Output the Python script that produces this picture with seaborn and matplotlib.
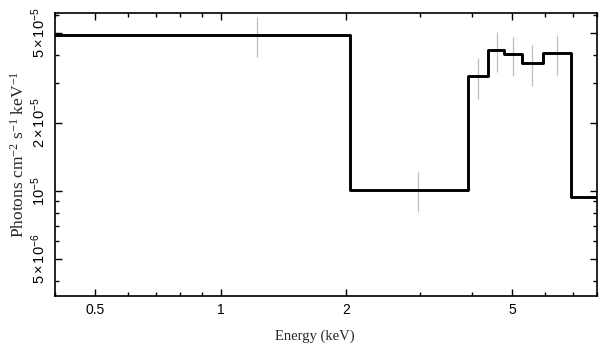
import numpy as np
import pandas as pd
import seaborn as sns
import matplotlib
matplotlib.use("Agg")
import matplotlib.pyplot as plt
from matplotlib.ticker import FixedLocator, FixedFormatter, NullFormatter

# ---- data ----
bin_edges = [0.4, 2.04, 3.91, 4.38, 4.78, 5.27, 5.92, 6.92, 8.0]
model_vals = [4.90e-5, 1.01e-5, 3.22e-5, 4.21e-5, 4.04e-5, 3.67e-5, 4.09e-5, 9.4e-6]
err_x = [1.22, 2.97, 4.14, 4.59, 5.01, 5.59, 6.42]
err_lo = [3.91e-5, 8.12e-6, 2.56e-5, 3.37e-5, 3.23e-5, 2.92e-5, 3.26e-5]
err_hi = [5.87e-5, 1.22e-5, 3.87e-5, 5.02e-5, 4.79e-5, 4.43e-5, 4.90e-5]

x_major = [0.5, 1, 2, 5]
x_major_labels = ["0.5", "1", "2", "5"]
x_minor = [0.4, 0.6, 0.7, 0.8, 0.9, 3, 4, 6, 7, 8]
y_major = [5e-6, 1e-5, 2e-5, 5e-5]
y_major_labels = [r"$\mathsf{5\times10^{-6}}$", r"$\mathsf{10^{-5}}$",
                  r"$\mathsf{2\times10^{-5}}$", r"$\mathsf{5\times10^{-5}}$"]
y_minor = [4e-6, 6e-6, 7e-6, 8e-6, 9e-6, 3e-5, 4e-5, 6e-5]

sns.set_style("ticks")
plt.rcParams["font.family"] = ["Liberation Sans", "DejaVu Sans"]
plt.rcParams["mathtext.fontset"] = "custom"
plt.rcParams["mathtext.rm"] = "Liberation Serif"
plt.rcParams["mathtext.it"] = "Liberation Serif:italic"
plt.rcParams["mathtext.bf"] = "Liberation Serif:bold"
plt.rcParams["mathtext.sf"] = "Liberation Sans"

fig = plt.figure(figsize=(6.09, 3.58), dpi=100)
ax = fig.add_axes([55 / 609, 1 - 295.7 / 358, (597.3 - 55) / 609, (295.7 - 13.3) / 358])

step_df = pd.DataFrame({
    "E": bin_edges,
    "F": model_vals + [model_vals[-1]],
})

ax.vlines(err_x, err_lo, err_hi, color="#bdbdbd", lw=0.9, zorder=1)
sns.lineplot(data=step_df, x="E", y="F", ax=ax, drawstyle="steps-post",
             estimator=None, sort=False, color="black", lw=2.1, zorder=3)

ax.set_xscale("log")
ax.set_yscale("log")
ax.set_xlim(0.4, 8.0)
ax.set_ylim(3.45e-6, 6.1e-5)

ax.xaxis.set_major_locator(FixedLocator(x_major))
ax.xaxis.set_major_formatter(FixedFormatter(x_major_labels))
ax.xaxis.set_minor_locator(FixedLocator(x_minor))
ax.xaxis.set_minor_formatter(NullFormatter())
ax.yaxis.set_major_locator(FixedLocator(y_major))
ax.yaxis.set_major_formatter(FixedFormatter(y_major_labels))
ax.yaxis.set_minor_locator(FixedLocator(y_minor))
ax.yaxis.set_minor_formatter(NullFormatter())

ax.tick_params(which="both", direction="in", top=True, right=True, color="black",
               labelcolor="black")
ax.tick_params(axis="x", labelsize=10)
ax.tick_params(axis="y", labelsize=10.5)
ax.tick_params(which="major", length=5, width=1.0, pad=5)
ax.tick_params(which="minor", length=3, width=1.0)

for lab in ax.get_yticklabels():
    lab.set_rotation(90)
    lab.set_va("center")
    lab.set_ha("right")

for s in ax.spines.values():
    s.set_visible(True)
    s.set_color("black")
    s.set_linewidth(1.2)

ax.set_xlabel("Energy (keV)", family=["Liberation Serif", "DejaVu Serif"], fontsize=10.5)
ax.set_ylabel(r"Photons cm$^{-2}$ s$^{-1}$ keV$^{-1}$",
              family=["Liberation Serif", "DejaVu Serif"], fontsize=12.5)
ax.xaxis.set_label_coords(0.48, -0.118)
ax.yaxis.set_label_coords(-0.05, 0.5)

fig.savefig("out.png", dpi=100, facecolor="white")
